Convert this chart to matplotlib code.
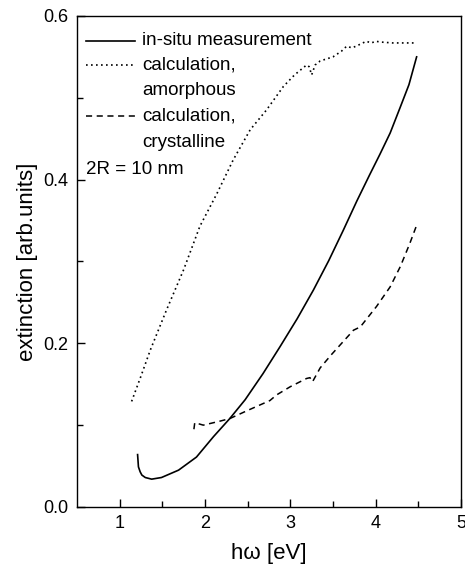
import numpy as np
import matplotlib
matplotlib.use("Agg")
import matplotlib.pyplot as plt

plt.rcParams['font.family'] = ['Liberation Sans', 'DejaVu Sans']

# in-situ measurement
meas_x = [1.21, 1.22, 1.24, 1.26, 1.30, 1.375, 1.49, 1.69, 1.90, 2.10, 2.29, 2.47, 2.68,
          2.88, 3.08, 3.27, 3.45, 3.62, 3.78, 3.93, 4.05, 4.17, 4.29, 4.39, 4.48]
meas_y = [0.064, 0.049, 0.043, 0.039, 0.036, 0.034, 0.036, 0.045, 0.061, 0.086, 0.108, 0.131, 0.163,
          0.196, 0.230, 0.265, 0.301, 0.338, 0.374, 0.406, 0.431, 0.457, 0.489, 0.516, 0.550]

# calculation, amorphous
amor_x = [1.14, 1.25, 1.36, 1.55, 1.75, 1.94, 2.14, 2.33, 2.53, 2.72, 2.92, 3.05, 3.19, 3.22,
          3.25, 3.29, 3.35, 3.50, 3.60, 3.66, 3.72, 3.77, 3.89, 3.95, 4.00, 4.07, 4.20, 4.35, 4.48]
amor_y = [0.129, 0.160, 0.192, 0.241, 0.290, 0.343, 0.383, 0.424, 0.461, 0.485, 0.514, 0.528, 0.540, 0.538,
          0.528, 0.540, 0.545, 0.550, 0.557, 0.563, 0.561, 0.563, 0.569, 0.567, 0.569, 0.568, 0.567, 0.567, 0.567]

# calculation, crystalline
cryst_x = [1.87, 1.88, 1.98, 2.18, 2.29, 2.50, 2.76, 2.84, 3.00, 3.19, 3.23, 3.26, 3.35, 3.48,
           3.74, 3.82, 4.01, 4.17, 4.29, 4.40, 4.49]
cryst_y = [0.095, 0.103, 0.100, 0.105, 0.108, 0.118, 0.130, 0.137, 0.147, 0.157, 0.158, 0.153, 0.170, 0.186,
           0.216, 0.220, 0.245, 0.269, 0.294, 0.322, 0.347]

fig = plt.figure(figsize=(4.65, 5.69), dpi=100)
ax = fig.add_axes([0.1656, 0.109, 0.8258, 0.863])

ax.plot(meas_x, meas_y, color='black', lw=1.2, ls='-')
ax.plot(amor_x, amor_y, color='black', lw=1.2, ls=(0, (1, 2)))
ax.plot(cryst_x, cryst_y, color='black', lw=1.1, ls=(0, (4, 3)))

ax.set_xlim(0.5, 5)
ax.set_ylim(0, 0.6)
ax.set_xticks([1, 2, 3, 4, 5])
ax.set_xticks([1.5, 2.5, 3.5, 4.5], minor=True)
ax.set_yticks([0.0, 0.2, 0.4, 0.6])
ax.set_yticklabels(['0.0', '0.2', '0.4', '0.6'])
ax.set_yticks([0.1, 0.3, 0.5], minor=True)
ax.tick_params(which='both', direction='in', labelsize=13, width=1)
ax.tick_params(which='major', length=6, pad=6)
ax.tick_params(which='minor', length=4)
for s in ax.spines.values():
    s.set_linewidth(1)

ax.set_xlabel('h\u03c9 [eV]', fontsize=16, labelpad=8)
ax.set_ylabel('extinction [arb.units]', fontsize=16, labelpad=4)

# legend drawn by hand: handle aligned with first text line
tr = ax.transAxes
def ypos(px):
    return (507 - px) / 491.0
def xpos(px):
    return (px - 77) / 384.0

hx = [xpos(86), xpos(135)]
tx = xpos(142)
ax.plot(hx, [ypos(41)] * 2, transform=tr, color='black', lw=1.2, ls='-')
ax.plot(hx, [ypos(65)] * 2, transform=tr, color='black', lw=1.2, ls=(0, (1, 2)))
ax.plot(hx, [ypos(116)] * 2, transform=tr, color='black', lw=1.1, ls=(0, (4, 3)))
for txt, py in [('in-situ measurement', 41), ('calculation,', 65), ('amorphous', 91),
                ('calculation,', 116), ('crystalline', 143)]:
    ax.text(tx, ypos(py), txt, transform=tr, fontsize=13.5, va='center', ha='left')
ax.text(xpos(86), ypos(170), '2R = 10 nm', transform=tr, fontsize=13.5, va='center', ha='left')

fig.savefig('out.png', dpi=100)
